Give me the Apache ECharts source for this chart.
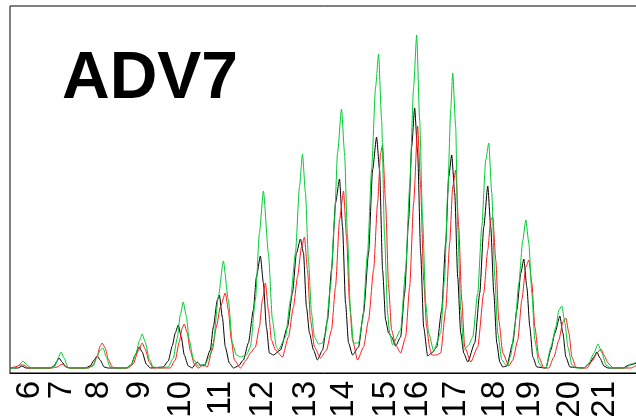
<!DOCTYPE html>
<html>
<head>
  <meta charset="utf-8">
  <title>ADV7</title>
  <script src="https://cdn.jsdelivr.net/npm/echarts@6/dist/echarts.min.js"></script>
  <style>
    html, body { margin: 0; padding: 0; background: #fff; }
  </style>
</head>
<body>
  <div id="main" style="width:636px;height:416px;"></div>
  <script type="text/javascript">
    // allele bins on the size axis and their labels
    var labelPos = [30, 62, 99, 140, 181, 221, 263, 305, 343, 385, 417, 455, 494, 529, 569, 604];
    var labelText = ['6', '7', '8', '9', '10', '11', '12', '13', '14', '15', '16', '17', '18', '19', '20', '21'];

    // traces: [size, signal]
    var blackTrace = [
      [10,5],[18,5],[22,7],[26,5],
      [50,5],[54,7],[57,12],[59,15],[62,11],[66,6],[70,5],
      [85,5],[90,7],[94,13],[97,17],[100,13],[104,6],[108,5],
      [126,5],[131,8],[135,18],[139,26],[142,21],[146,9],[150,5],
      [163,6],[168,12],[172,27],[175,40],[178,48],[181,36],[184,18],[188,7],[192,5],
      [195,9],[197,11],[200,8],[204,7],
      [210,23],[213,46],[217,73],[219,78],[222,56],[225,26],[229,10],[233,5],
      [238,7],[243,13],[248,30],[253,63],[256,96],[260,117],[263,90],[266,46],[269,20],[273,18],
      [280,23],[287,46],[292,80],[296,120],[300,134],[303,120],[306,66],[309,40],[313,23],[317,13],
      [322,23],[327,53],[331,103],[335,170],[339,194],[342,146],[345,70],[348,30],[352,18],
      [358,26],[363,60],[368,120],[372,203],[376,236],[379,203],[382,103],[385,53],[388,40],[391,36],[395,27],
      [400,36],[404,80],[408,153],[411,226],[414,265],[417,220],[420,120],[423,46],[427,17],
      [431,20],[436,26],[441,63],[445,130],[448,196],[451,218],[454,180],[457,96],[460,40],[463,20],[467,11],
      [474,30],[479,80],[483,146],[487,187],[490,146],[493,80],[496,30],[499,11],[502,6],
      [506,7],[512,30],[516,63],[520,100],[523,114],[526,86],[529,46],[532,16],[536,6],
      [545,5],[550,23],[554,40],[559,57],[562,40],[565,16],[569,6],
      [583,5],[589,10],[593,16],[596,21],[599,15],[603,7],[607,5],
      [622,5],[628,8],[636,10]
    ];

    var redTrace = [
      [10,5],[15,6],[20,8],[24,8],[28,5],
      [52,5],[57,6],[62,9],[66,6],[70,5],
      [88,5],[93,8],[97,17],[100,27],[102,30],[105,25],[108,14],[112,6],[116,5],
      [128,5],[133,9],[138,22],[142,30],[145,24],[149,11],[153,5],
      [170,5],[175,13],[179,31],[182,45],[184,49],[187,40],[190,22],[194,9],[198,5],
      [203,8],[207,6],
      [212,23],[216,46],[220,66],[225,80],[228,63],[231,33],[234,13],[240,5],
      [246,13],[250,20],[255,26],[259,46],[262,73],[265,90],[268,63],[271,33],[275,23],[282,16],
      [288,36],[293,66],[297,96],[301,126],[304,136],[307,103],[310,53],[314,26],[320,15],
      [326,23],[331,43],[335,86],[339,153],[343,182],[346,136],[349,70],[352,33],[357,13],
      [363,26],[368,53],[373,103],[377,170],[380,220],[382,228],[385,170],[388,86],[391,43],[395,28],[400,20],
      [405,36],[409,86],[413,170],[417,247],[420,186],[423,93],[426,46],[429,25],[431,18],
      [436,18],[440,20],[445,63],[449,130],[452,186],[455,203],[458,146],[461,73],[464,26],[470,11],
      [477,26],[483,80],[487,123],[490,153],[492,156],[495,113],[498,53],[502,20],[508,7],
      [512,13],[517,33],[521,73],[525,106],[528,113],[531,90],[534,46],[538,16],[543,5],
      [548,5],[553,16],[558,33],[562,51],[565,55],[568,40],[571,16],[575,6],[578,5],
      [586,5],[592,13],[596,20],[600,24],[603,18],[607,10],[612,5],
      [630,5],[636,8]
    ];

    var greenTrace = [
      [10,5],[16,5],[19,8],[23,12],[27,8],[31,5],
      [50,5],[55,7],[58,15],[61,21],[64,15],[68,5],
      [88,5],[93,7],[97,16],[100,23],[103,25],[106,16],[110,6],[114,5],
      [126,5],[131,8],[136,20],[139,32],[142,39],[145,31],[149,14],[153,6],[160,5],
      [168,6],[173,15],[177,35],[180,58],[183,71],[186,57],[189,33],[193,14],[198,7],
      [205,9],[209,16],[213,30],[218,76],[223,112],[228,73],[232,30],[236,18],[240,16],[246,18],
      [250,26],[255,73],[259,140],[263,182],[268,120],[272,53],[276,26],[278,23],
      [285,36],[290,73],[295,120],[299,186],[302,219],[305,180],[308,113],[311,60],[314,36],[318,29],
      [322,30],[325,40],[330,86],[334,153],[337,220],[341,264],[344,220],[347,136],[350,60],[353,30],[358,30],
      [362,53],[367,120],[371,203],[375,286],[378,319],[381,253],[384,136],[387,60],[389,40],[392,28],
      [400,43],[405,103],[409,186],[413,286],[416,338],[419,253],[422,153],[425,70],[428,40],[433,22],
      [440,40],[444,96],[447,180],[450,263],[452,300],[455,246],[457,146],[460,63],[463,23],
      [468,28],[472,36],[477,80],[481,146],[485,213],[488,230],[491,180],[494,96],[497,40],[501,13],[505,8],
      [507,8],[510,18],[514,46],[518,90],[522,133],[525,153],[528,130],[531,80],[534,33],[538,10],[542,5],
      [545,5],[550,26],[555,46],[558,63],[561,67],[564,50],[567,26],[571,8],[575,5],
      [583,5],[588,10],[593,20],[597,29],[601,20],[605,8],[610,5],
      [625,5],[630,9],[636,11]
    ];

    var myChart = echarts.init(document.getElementById('main'));

    var labelMap = {};
    labelPos.forEach(function (p, i) { labelMap[p] = labelText[i]; });

    // labels are packed tight, so they are split over two stacked axes
    // (even / odd) to keep echarts from dropping any of them
    var evenPos = labelPos.filter(function (p, i) { return i % 2 === 0; });
    var oddPos = labelPos.filter(function (p, i) { return i % 2 === 1; });

    function trace(name, color, data) {
      return {
        name: name,
        type: 'line',
        data: data,
        showSymbol: false,
        smooth: 0.2,
        smoothMonotone: 'x',
        lineStyle: { color: color, width: 1 },
        animation: false
      };
    }

    function sizeAxis(values, showLine) {
      return {
        type: 'value',
        position: 'bottom',
        min: 10,
        max: 636,
        splitLine: { show: false },
        axisTick: { show: false },
        axisLine: { show: showLine, onZero: false, lineStyle: { color: '#000', width: 1 } },
        axisLabel: {
          customValues: values,
          rotate: 90,
          margin: 8,
          showMinLabel: true,
          showMaxLabel: true,
          hideOverlap: false,
          color: '#000',
          fontFamily: 'Liberation Sans',
          fontSize: 33,
          formatter: function (v) { return labelMap[v] || ''; }
        }
      };
    }

    var option = {
      animation: false,
      title: {
        text: 'ADV7',
        left: 62,
        top: 47,
        padding: 0,
        textStyle: {
          fontFamily: 'Liberation Sans',
          fontWeight: 'bold',
          fontSize: 66,
          color: '#000'
        }
      },
      grid: {
        left: 10,
        top: 6,
        right: -1,
        bottom: 43,
        outerBoundsMode: 'none',
        containLabel: false,
        show: true,
        borderColor: '#000',
        borderWidth: 1
      },
      xAxis: [
        sizeAxis(evenPos, true),
        Object.assign(sizeAxis(oddPos, false), { offset: 0 })
      ],
      yAxis: {
        type: 'value',
        min: 0,
        max: 367,
        show: false
      },
      series: [
        trace('black', '#000000', blackTrace),
        trace('red', '#ff1a1a', redTrace),
        trace('green', '#00cc33', greenTrace)
      ]
    };

    myChart.setOption(option);
  </script>
</body>
</html>
